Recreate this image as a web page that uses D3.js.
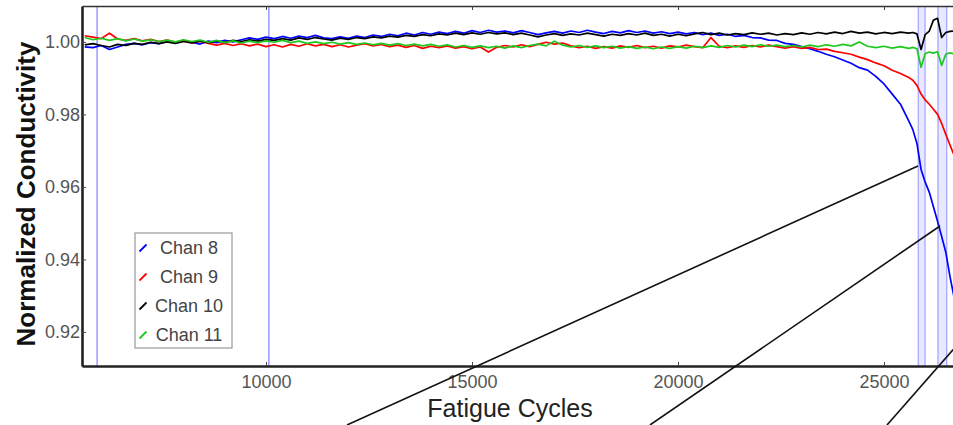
<!DOCTYPE html>
<html>
<head>
<meta charset="utf-8">
<script src="https://cdn.jsdelivr.net/npm/d3@7"></script>
<style>
body{margin:0;background:#fff;}
svg{display:block;font-family:"Liberation Sans", Arial, sans-serif;}
</style>
</head>
<body>
<svg id="chart" width="953" height="425"></svg>
<script>
// sample positions (fatigue cycles), finer near the end where things change fast
let cycles = d3.range(5600, 25600, 200).concat(d3.range(25600, 26800, 100));
let channels = ['Chan 8', 'Chan 9', 'Chan 10', 'Chan 11'];
let colors = ['#0000ff', '#ff0000', '#000000', '#1ec81e'];
let chan8 = [
  0.9986, 0.9984, 0.9990, 0.9979, 0.9986, 0.9993, 0.9996, 0.9992, 0.9998, 0.9995,
  1.0001, 0.9997, 1.0003, 0.9999, 0.9994, 1.0002, 0.9998, 1.0004, 1.0000, 1.0006,
  1.0011, 1.0007, 1.0013, 1.0009, 1.0015, 1.0010, 1.0016, 1.0012, 1.0018, 1.0011,
  1.0009, 1.0014, 1.0010, 1.0016, 1.0012, 1.0019, 1.0015, 1.0021, 1.0017, 1.0024,
  1.0019, 1.0026, 1.0021, 1.0027, 1.0023, 1.0029, 1.0024, 1.0031, 1.0026, 1.0032,
  1.0027, 1.0030, 1.0025, 1.0031, 1.0026, 1.0020, 1.0025, 1.0029, 1.0024, 1.0030,
  1.0026, 1.0032, 1.0027, 1.0023, 1.0029, 1.0025, 1.0031, 1.0026, 1.0030, 1.0024,
  1.0028, 1.0023, 1.0027, 1.0022, 1.0026, 1.0020, 1.0024, 1.0018, 1.0021, 1.0015,
  1.0018, 1.0012, 1.0011, 1.0005, 1.0004, 0.9996, 0.9993, 0.9987, 0.9981, 0.9974,
  0.9966, 0.9959, 0.9950, 0.9941, 0.9929, 0.9922, 0.9905, 0.9884, 0.9856, 0.9828,
  0.9782, 0.9758, 0.9720, 0.9648, 0.9613, 0.9585, 0.9545, 0.9505, 0.9463, 0.9420, 0.9354, 0.9296
];
let chan9 = [
  1.0017, 1.0013, 1.0009, 1.0024, 1.0008, 1.0004, 1.0009, 1.0003, 1.0007, 1.0001,
  1.0005, 0.9999, 1.0004, 0.9997, 1.0002, 0.9996, 0.9991, 0.9996, 0.9990, 0.9995,
  0.9989, 0.9994, 0.9987, 0.9992, 0.9986, 0.9993, 0.9988, 0.9995, 0.9989, 0.9993,
  0.9987, 0.9992, 0.9986, 0.9991, 0.9995, 0.9989, 0.9993, 0.9987, 0.9991, 0.9985,
  0.9990, 0.9982, 0.9988, 0.9984, 0.9989, 0.9983, 0.9987, 0.9981, 0.9986, 0.9972,
  0.9985, 0.9990, 0.9986, 0.9992, 0.9987, 0.9993, 0.9999, 0.9994, 0.9997, 0.9989,
  0.9984, 0.9988, 0.9982, 0.9987, 0.9983, 0.9989, 0.9985, 0.9990, 0.9984, 0.9988,
  0.9983, 0.9989, 0.9986, 0.9991, 0.9987, 0.9984, 1.0012, 0.9988, 0.9984, 0.9989,
  0.9985, 0.9990, 0.9986, 0.9991, 0.9987, 0.9983, 0.9987, 0.9982, 0.9985, 0.9979,
  0.9980, 0.9974, 0.9970, 0.9966, 0.9958, 0.9951, 0.9942, 0.9934, 0.9922, 0.9913,
  0.9902, 0.9894, 0.9880, 0.9856, 0.9840, 0.9828, 0.9814, 0.9800, 0.9775, 0.9745, 0.9716, 0.9688
];
let chan10 = [
  0.9992, 0.9995, 0.9990, 0.9986, 0.9993, 0.9990, 0.9996, 0.9993, 0.9999, 0.9995,
  1.0000, 0.9996, 1.0001, 0.9997, 1.0002, 0.9998, 1.0003, 0.9999, 1.0004, 1.0001,
  1.0006, 1.0002, 1.0007, 1.0004, 1.0009, 1.0005, 1.0011, 1.0007, 1.0012, 1.0008,
  1.0005, 1.0010, 1.0007, 1.0012, 1.0009, 1.0014, 1.0011, 1.0016, 1.0013, 1.0018,
  1.0015, 1.0020, 1.0017, 1.0022, 1.0019, 1.0024, 1.0020, 1.0025, 1.0021, 1.0026,
  1.0022, 1.0025, 1.0020, 1.0024, 1.0019, 1.0014, 1.0019, 1.0023, 1.0018, 1.0022,
  1.0019, 1.0024, 1.0020, 1.0016, 1.0021, 1.0018, 1.0023, 1.0019, 1.0024, 1.0018,
  1.0021, 1.0016, 1.0021, 1.0017, 1.0022, 1.0026, 1.0020, 1.0024, 1.0019, 1.0023,
  1.0020, 1.0025, 1.0021, 1.0024, 1.0019, 1.0023, 1.0020, 1.0025, 1.0021, 1.0026,
  1.0022, 1.0027, 1.0023, 1.0029, 1.0024, 1.0027, 1.0022, 1.0026, 1.0023, 1.0027,
  1.0024, 1.0026, 1.0022, 0.9979, 1.0020, 1.0030, 1.0060, 1.0065, 1.0012, 1.0026, 1.0029, 1.0030
];
let chan11 = [
  1.0012, 1.0006, 1.0010, 1.0004, 1.0009, 1.0003, 1.0008, 1.0002, 1.0006, 1.0001,
  1.0005, 1.0000, 1.0006, 1.0001, 1.0005, 0.9999, 1.0004, 0.9998, 1.0003, 0.9997,
  1.0002, 0.9998, 1.0003, 0.9999, 1.0004, 0.9998, 1.0002, 0.9996, 1.0000, 0.9995,
  0.9999, 0.9994, 0.9998, 0.9993, 0.9997, 0.9992, 0.9996, 0.9991, 0.9995, 0.9990,
  0.9994, 0.9989, 0.9993, 0.9988, 0.9992, 0.9986, 0.9990, 0.9985, 0.9989, 0.9984,
  0.9988, 0.9983, 0.9989, 0.9984, 0.9990, 0.9994, 0.9989, 1.0002, 0.9991, 0.9986,
  0.9990, 0.9985, 0.9989, 0.9984, 0.9988, 0.9983, 0.9987, 0.9982, 0.9986, 0.9981,
  0.9986, 0.9982, 0.9987, 0.9983, 0.9988, 0.9984, 0.9989, 0.9985, 0.9990, 0.9986,
  0.9991, 0.9987, 0.9992, 0.9988, 0.9991, 0.9987, 0.9990, 0.9986, 0.9991, 0.9987,
  0.9992, 0.9988, 0.9993, 0.9989, 1.0000, 0.9988, 0.9984, 0.9988, 0.9983, 0.9987,
  0.9982, 0.9985, 0.9981, 0.9930, 0.9968, 0.9972, 0.9969, 0.9973, 0.9935, 0.9966, 0.9970, 0.9967
];
let xTicks = [10000, 15000, 20000, 25000];
let yTicks = [0.92, 0.94, 0.96, 0.98, 1.00];
// blue event markers (cycles)
let markerCycles = [5900, 10070];
let bandCycles = [[25833, 25996], [26311, 26522]];
// black leader lines, endpoints in data units
let leaders = [
  [[25825, 0.96577], [11966, 0.89433]],
  [[26359, 0.94922], [19320, 0.89433]],
  [[26845, 0.91728], [25073, 0.89433]]
];

let series = [chan8, chan9, chan10, chan11];

let svg = d3.select('#chart');
let pLeft = 82, pRight = 953, pTop = 6, pBottom = 366;

let x = d3.scaleLinear().domain([5534, 26675]).range([pLeft, pRight]);
let y = d3.scaleLinear().domain([0.9106, 1.0099]).range([pBottom, pTop]);

svg.append('defs').append('clipPath').attr('id', 'plotclip')
  .append('rect').attr('x', pLeft).attr('y', pTop).attr('width', pRight - pLeft).attr('height', pBottom - pTop);

// markers
let mk = svg.append('g').attr('clip-path', 'url(#plotclip)');
mk.selectAll('rect.band').data(bandCycles).enter().append('rect')
  .attr('x', d => x(d[0])).attr('width', d => x(d[1]) - x(d[0]))
  .attr('y', pTop).attr('height', pBottom - pTop)
  .attr('fill', '#e8e8ff');
mk.selectAll('line.bedge').data(bandCycles.flat()).enter().append('line')
  .attr('x1', d => x(d)).attr('x2', d => x(d))
  .attr('y1', pTop).attr('y2', pBottom)
  .attr('stroke', '#a8a8ff').attr('stroke-width', 1.3);
mk.selectAll('line.mark').data(markerCycles).enter().append('line')
  .attr('x1', d => x(d)).attr('x2', d => x(d))
  .attr('y1', pTop).attr('y2', pBottom)
  .attr('stroke', '#8080ff').attr('stroke-width', 1.2);

// data lines
let line = d3.line().x((d, i) => x(cycles[i])).y(d => y(d));
let lg = svg.append('g').attr('clip-path', 'url(#plotclip)');
lg.selectAll('path').data(series).enter().append('path')
  .attr('d', d => line(d))
  .attr('fill', 'none')
  .attr('stroke', (d, i) => colors[i])
  .attr('stroke-width', 1.7)
  .attr('stroke-linejoin', 'round');

// axes
let fmt = d3.format('.2f');
let xa = svg.append('g').attr('transform', `translate(0,${pBottom})`)
  .call(d3.axisBottom(x).tickValues(xTicks).tickSize(-4).tickSizeOuter(0).tickPadding(9).tickFormat(d3.format('d')));
let xt = svg.append('g').attr('transform', `translate(0,${pTop})`)
  .call(d3.axisTop(x).tickValues(xTicks).tickSize(-4).tickSizeOuter(0).tickFormat(''));
let ya = svg.append('g').attr('transform', `translate(${pLeft},0)`)
  .call(d3.axisLeft(y).tickValues(yTicks).tickSize(-4).tickSizeOuter(0).tickPadding(2).tickFormat(fmt));

[xa, ya].forEach(a => {
  a.select('path').attr('stroke', '#222').attr('stroke-width', 2.6);
  a.selectAll('line').attr('stroke', '#444');
  a.selectAll('text').attr('fill', '#555').style('font-size', '18px').style('font-family', '"Liberation Sans", Arial, sans-serif');
});
xt.select('path').attr('stroke', '#333').attr('stroke-width', 1.6);
xt.selectAll('line').attr('stroke', '#444');

// leader lines (drawn over everything, not clipped)
svg.append('g').selectAll('line').data(leaders).enter().append('line')
  .attr('x1', d => x(d[0][0])).attr('y1', d => y(d[0][1]))
  .attr('x2', d => x(d[1][0])).attr('y2', d => y(d[1][1]))
  .attr('stroke', '#111').attr('stroke-width', 1.6);

// titles
svg.append('text').text('Normalized Conductivity')
  .attr('transform', 'translate(35,194) rotate(-90)')
  .attr('text-anchor', 'middle')
  .attr('fill', '#111')
  .style('font-size', '26px')
  .style('font-weight', 'bold');
svg.append('text').text('Fatigue Cycles')
  .attr('x', 510).attr('y', 417)
  .attr('text-anchor', 'middle')
  .attr('fill', '#222')
  .style('font-size', '25px');

// legend
let leg = svg.append('g').attr('transform', 'translate(135,233)');
leg.append('rect').attr('width', 97).attr('height', 115)
  .attr('fill', '#fff').attr('stroke', '#999').attr('stroke-width', 1.2);
let items = leg.selectAll('g.item').data(channels).enter().append('g')
  .attr('transform', (d, i) => `translate(0,${21 + i * 29})`);
items.append('line')
  .attr('x1', 4.5).attr('y1', -2.5).attr('x2', 11.5).attr('y2', -9.5)
  .attr('stroke', (d, i) => colors[i]).attr('stroke-width', 1.8);
items.append('text').text(d => d)
  .attr('x', 54).attr('text-anchor', 'middle')
  .attr('fill', '#444')
  .style('font-size', '18px');
</script>
</body>
</html>
